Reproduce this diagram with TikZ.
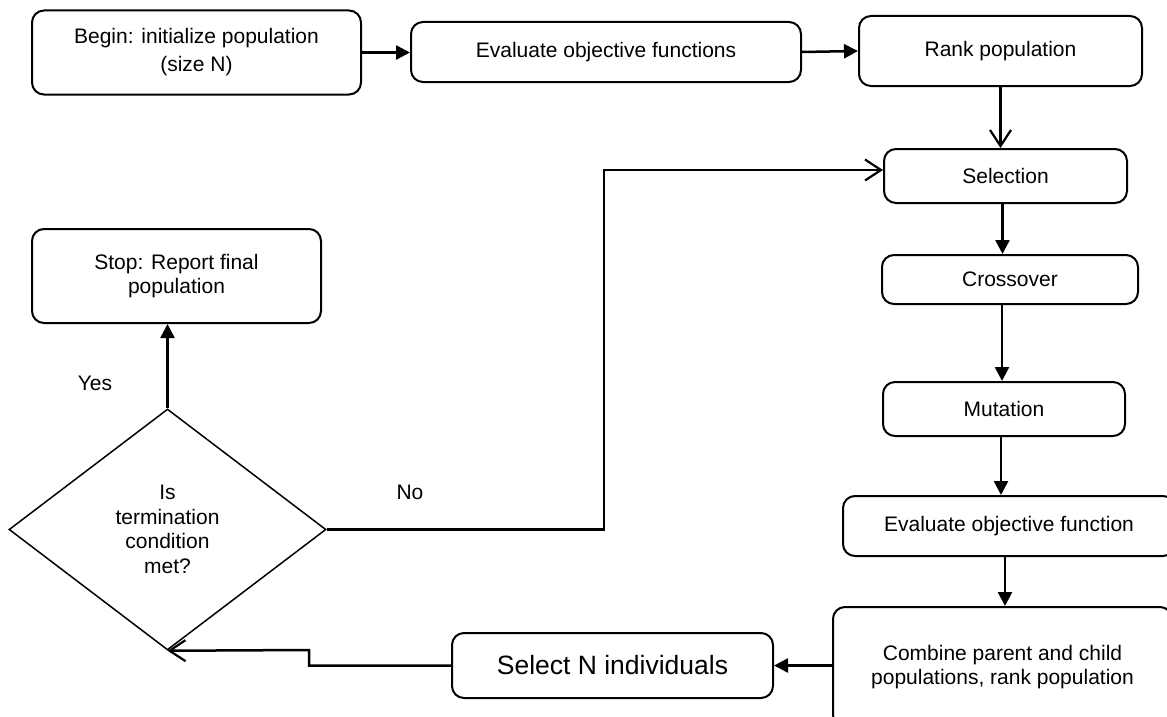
\documentclass[tikz,border=0pt]{standalone}
\usepackage{fontspec}
\setmainfont{Liberation Sans}
\usetikzlibrary{arrows.meta,shapes.geometric}
\begin{document}
\begin{tikzpicture}[x=1pt,y=-1pt,
  txt/.style={font=\fontsize{21}{24.5}\selectfont},
  box/.style={txt,draw=black,line width=2pt,rounded corners=12pt,align=center,inner sep=0pt},
  decision/.style={txt,diamond,draw=black,line width=1.5pt,align=center,inner sep=0pt},
  tag/.style={txt,inner sep=0pt},
  flow/.style={line width=2.5pt,-{Triangle[length=14pt,width=14pt]}},
  openflow/.style={line width=2.5pt,-{Straight Barb[length=16pt,width=21pt,line width=2.2pt]}}
]
\useasboundingbox (0,0) rectangle (1167,717);
\clip (0,0) rectangle (1167,717);

% top row
\node[box,minimum width=329pt,minimum height=84pt,font=\fontsize{21}{28}\selectfont] (begin) at (196.5,52.5) {Begin: initialize population\\(size N)};
\node[box,minimum width=390pt,minimum height=60pt] (evalfs) at (606,52) {Evaluate objective functions};
\node[box,minimum width=283pt,minimum height=70pt] (rank) at (1000.5,51) {Rank population};

% right column
\node[box,minimum width=243pt,minimum height=54pt] (sel) at (1005.5,176) {Selection};
\node[box,minimum width=256pt,minimum height=49pt] (cross) at (1010,279.5) {Crossover};
\node[box,minimum width=242pt,minimum height=54pt] (mut) at (1004,409) {Mutation};
\node[box,minimum width=332pt,minimum height=60pt] (evalf) at (1009,526) {Evaluate objective function};
\node[box,minimum width=339pt,minimum height=120pt] (comb) at (1002.5,667) {Combine parent and child\\populations, rank population};

% bottom and left
\node[box,minimum width=321pt,minimum height=65pt,font=\fontsize{26.5}{30}\selectfont] (seln) at (612.5,665.5) {Select N individuals};
\node[box,minimum width=289pt,minimum height=94pt] (stop) at (176.5,276) {Stop: Report final\\population};
\node[decision,minimum width=317pt,minimum height=241pt] (cond) at (167.5,529.5) {Is\\termination\\condition\\met?};

% branch labels
\node[tag] (yes) at (95,383) {Yes};
\node[tag] (no) at (410,492) {No};

% routing points
\coordinate (nojoin) at (604,170);
\coordinate (backjoin) at (309,650);

% connectors
\draw[flow] (begin.east) -- (begin.east -| evalfs.west);
\draw[flow] (evalfs.east) -- (rank.west);
\draw[openflow] (rank.south) -- (rank.south |- sel.north);
\draw[flow] ([xshift=-3pt]sel.south) -- ([xshift=-3pt]sel.south |- cross.north);
\draw[flow] ([xshift=-8pt]cross.south) -- ([xshift=-8pt]cross.south |- mut.north);
\draw[flow] ([xshift=-3pt]mut.south) -- ([xshift=-3pt]mut.south |- evalf.north);
\draw[flow] ([xshift=-4pt]evalf.south) -- ([xshift=-4pt]evalf.south |- comb.north);
\draw[flow] (comb.west |- seln.east) -- (seln.east);
\draw[openflow] (seln.west) -| (backjoin) -- (cond.south);
\draw[openflow] (cond.east) -| (nojoin) -- (sel.west |- nojoin);
\draw[flow] (cond.north) -- (cond.north |- stop.south);
\end{tikzpicture}
\end{document}
